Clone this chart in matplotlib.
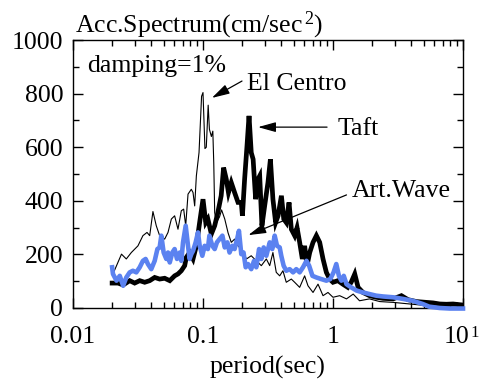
import matplotlib
matplotlib.use("Agg")
import matplotlib.pyplot as plt
from matplotlib.ticker import FixedLocator, FixedFormatter, MultipleLocator, LogLocator, NullFormatter

plt.rcParams['font.family'] = ['Liberation Serif', 'DejaVu Serif']
plt.rcParams['mathtext.fontset'] = 'custom'
plt.rcParams['mathtext.rm'] = 'Liberation Serif'
plt.rcParams['mathtext.it'] = 'Liberation Serif'

# El Centro (thin black)
elc_period = [0.0203, 0.0236, 0.0257, 0.0281, 0.0316, 0.0345, 0.0371, 0.0389, 0.0412, 0.0437,
              0.0464, 0.0507, 0.0538, 0.0571, 0.0605, 0.0642, 0.0681, 0.0710, 0.0736, 0.0767,
              0.0813, 0.0838, 0.0863, 0.0889, 0.0932, 0.0975, 0.1000, 0.1035, 0.1060, 0.1096,
              0.1120, 0.1160, 0.1190, 0.1210, 0.1230, 0.1270, 0.1340, 0.1390, 0.1470, 0.1560,
              0.1650, 0.1750, 0.1860, 0.1970, 0.2160, 0.2350, 0.2570, 0.2810, 0.3070, 0.3260,
              0.3450, 0.3660, 0.3890, 0.4120, 0.4370, 0.4780, 0.5070, 0.5540, 0.6050, 0.6420,
              0.7020, 0.7670, 0.8380, 0.9150, 1.000, 1.125, 1.27, 1.43, 1.60, 1.91,
              2.29, 2.90, 3.89, 5.22, 7.02, 10.0]
elc_acc = [127, 201, 183, 207, 232, 270, 282, 270, 360, 307,
           270, 257, 282, 332, 344, 294, 363, 369, 307, 425,
           443, 431, 381, 493, 580, 790, 804, 595, 600, 757,
           667, 640, 660, 541, 356, 319, 340, 366, 332, 280,
           245, 257, 232, 220, 183, 195, 176, 158, 183, 158,
           207, 133, 120, 139, 96, 108, 96, 77, 120, 83,
           58, 89, 46, 58, 40, 46, 34, 52, 27, 34,
           24, 21, 15, 9, 5, 2]

# Taft (thick black)
taft_period = [0.0200, 0.0222, 0.0243, 0.0273, 0.0298, 0.0326, 0.0356, 0.0389, 0.0425, 0.0464,
               0.0507, 0.0555, 0.0605, 0.0642, 0.0681, 0.0723, 0.0744, 0.0789, 0.0838, 0.0889,
               0.0942, 0.1000, 0.1050, 0.1090, 0.1160, 0.1230, 0.1300, 0.1380, 0.1440, 0.1510,
               0.1570, 0.1650, 0.1750, 0.1860, 0.1970, 0.2010, 0.2090, 0.2180, 0.2260, 0.2350,
               0.2430, 0.2540, 0.2650, 0.2730, 0.2840, 0.2980, 0.3160, 0.3300, 0.3450, 0.3620,
               0.3780, 0.4010, 0.4180, 0.4370, 0.4590, 0.4780, 0.5070, 0.5290, 0.5540, 0.5810,
               0.6050, 0.6310, 0.6620, 0.7020, 0.7450, 0.7900, 0.8380, 0.8890, 0.9420, 1.000,
               1.09, 1.19, 1.30, 1.38, 1.47, 1.56, 1.70, 1.91, 2.15, 2.43,
               2.90, 3.36, 3.78, 4.38, 5.22, 5.88, 6.62, 7.45, 8.38, 10.0]
taft_acc = [93, 93, 86, 102, 93, 102, 96, 102, 114, 108,
            111, 102, 120, 127, 139, 158, 189, 207, 183, 232,
            319, 406, 319, 332, 276, 307, 356, 419, 524, 481,
            431, 468, 431, 394, 394, 344, 481, 605, 717, 580,
            555, 406, 481, 493, 307, 381, 468, 555, 406, 319,
            344, 419, 332, 319, 394, 294, 270, 300, 245, 183,
            232, 158, 207, 245, 270, 245, 183, 133, 108, 96,
            102, 89, 77, 96, 127, 77, 58, 46, 40, 36,
            34, 46, 31, 24, 21, 19, 15, 14, 15, 11]

# Artificial wave (blue)
art_period = [0.0200, 0.0203, 0.0216, 0.0229, 0.0243, 0.0257, 0.0273, 0.0289, 0.0307, 0.0326,
              0.0345, 0.0362, 0.0377, 0.0400, 0.0425, 0.0446, 0.0464, 0.0478, 0.0498, 0.0522,
              0.0538, 0.0555, 0.0581, 0.0605, 0.0631, 0.0662, 0.0681, 0.0702, 0.0736, 0.0767,
              0.0789, 0.0813, 0.0838, 0.0878, 0.0915, 0.0943, 0.0988, 0.1030, 0.1090, 0.1120,
              0.1180, 0.1230, 0.1280, 0.1340, 0.1410, 0.1470, 0.1540, 0.1600, 0.1680, 0.1750,
              0.1830, 0.1890, 0.1970, 0.2050, 0.2130, 0.2220, 0.2350, 0.2470, 0.2570, 0.2700,
              0.2810, 0.2930, 0.3070, 0.3260, 0.3410, 0.3560, 0.3710, 0.3890, 0.4000, 0.4170,
              0.4370, 0.4640, 0.4930, 0.5220, 0.5540, 0.5880, 0.6250, 0.6550, 0.6950, 0.7450,
              0.8110, 0.8890, 0.9530, 1.01, 1.06, 1.11, 1.16, 1.21, 1.27, 1.38,
              1.52, 1.70, 1.91, 2.15, 2.43, 2.90, 3.45, 4.10, 4.90, 5.50,
              6.62, 7.90, 10.0]
art_acc = [152, 127, 102, 120, 83, 114, 133, 139, 133, 152,
           176, 183, 164, 145, 176, 220, 226, 270, 207, 183,
           207, 170, 207, 220, 183, 207, 176, 245, 307, 232,
           183, 201, 213, 245, 282, 232, 195, 232, 220, 270,
           232, 220, 245, 257, 270, 226, 245, 207, 232, 220,
           257, 288, 201, 207, 152, 164, 145, 176, 152, 220,
           183, 226, 195, 245, 220, 270, 232, 226, 195, 158,
           139, 145, 133, 145, 133, 152, 176, 158, 120, 114,
           108, 102, 108, 133, 164, 120, 102, 120, 89, 77,
           65, 58, 52, 46, 43, 40, 34, 27, 15, 5,
           0, -2, -2]

xtick_vals = [0.01, 0.1, 1, 10]
xtick_labels = ['0.01', '0.1', '1', '10']

fig = plt.figure(figsize=(4.79, 3.85), dpi=100)
ax = fig.add_axes([0.1524, 0.2, 0.8142, 0.696])

ax.plot(taft_period, taft_acc, color='black', lw=3.4, solid_joinstyle='miter', zorder=2)
ax.plot(elc_period, elc_acc, color='black', lw=0.8, zorder=3)
ax.plot(art_period, art_acc, color='#5b82f0', lw=3.3, zorder=4, clip_on=False)

ax.set_xscale('log')
ax.set_xlim(0.01, 10)
ax.set_ylim(0, 1000)

ax.xaxis.set_major_locator(FixedLocator(xtick_vals))
ax.xaxis.set_major_formatter(FixedFormatter(xtick_labels))
ax.xaxis.set_minor_locator(LogLocator(base=10, subs=range(2, 10)))
ax.xaxis.set_minor_formatter(NullFormatter())
ax.yaxis.set_major_locator(MultipleLocator(200))
ax.yaxis.set_minor_locator(MultipleLocator(100))

ax.tick_params(which='both', direction='in', top=True, right=True, labelsize=18.5, width=1)
ax.tick_params(which='major', length=7)
ax.tick_params(which='minor', length=4.5)
ax.tick_params(axis='y', pad=7)
ax.tick_params(axis='x', pad=13)
for s in ax.spines.values():
    s.set_linewidth(1)

# shift the "10" label left and add its exponent as a small superscript
ax.get_xticklabels()[-1].set_horizontalalignment('center')
ax.get_xticklabels()[-1].set_x(10)
from matplotlib.transforms import ScaledTranslation
last = ax.get_xticklabels()[-1]
last.set_transform(last.get_transform() + ScaledTranslation(-6 / 100, 0, fig.dpi_scale_trans))
ax.text(1.018, -0.11, '1', transform=ax.transAxes, fontsize=12, ha='left', va='baseline')

ax.set_xlabel('period(sec)', fontsize=18.5, labelpad=6)
ax.text(0.005, 1.03, 'Acc.Spectrum(cm/sec$^{\\,2}$)', transform=ax.transAxes,
        fontsize=18.5, ha='left', va='baseline')
ax.text(0.036, 0.881, 'damping=1%', transform=ax.transAxes, fontsize=18.5,
        ha='left', va='baseline')

arrow = dict(arrowstyle='-|>,head_length=0.9,head_width=0.25', mutation_scale=12,
             color='black', lw=0.9, shrinkA=0, shrinkB=0)

ax.text(0.446, 0.813, 'El Centro', transform=ax.transAxes, fontsize=18.5,
        ha='left', va='baseline')
ax.annotate('', xy=(0.117, 784), xytext=(0.1995, 847), arrowprops=arrow)

ax.text(0.679, 0.646, 'Taft', transform=ax.transAxes, fontsize=18.5,
        ha='left', va='baseline')
ax.annotate('', xy=(0.265, 675), xytext=(0.90, 675), arrowprops=arrow)

ax.text(0.715, 0.414, 'Art.Wave', transform=ax.transAxes, fontsize=18.5,
        ha='left', va='baseline')
ax.annotate('', xy=(0.223, 272), xytext=(1.27, 422), arrowprops=arrow)

fig.savefig('out.png', dpi=100)
